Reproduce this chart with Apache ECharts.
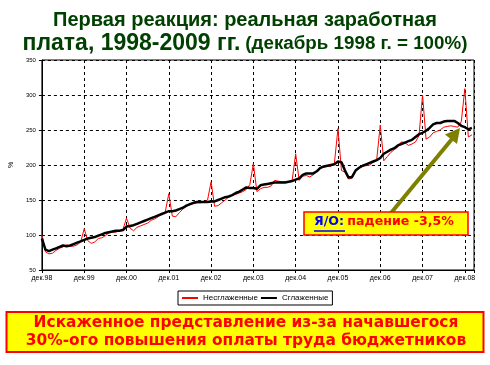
<!DOCTYPE html>
<html><head><meta charset="utf-8">
<script src="https://cdn.jsdelivr.net/npm/echarts@6/dist/echarts.min.js"></script>
<style>html,body{margin:0;padding:0;background:#fff}#c{width:490px;height:365px}</style>
</head><body><div id="c"></div>
<script>
// Monthly data, index 0 = Dec 1998 ... index 122 = Feb 2009
const rawValues = [
  100, 76, 73, 74, 78, 81, 83, 86, 84, 84, 86, 90,
  109, 92, 88, 90, 95, 96, 99, 103, 104, 104, 106, 108,
  124, 110, 106, 111, 113, 115, 117, 121, 123, 126, 130, 133,
  159, 127, 126, 132, 137, 141, 143, 145, 146, 146, 147, 150,
  176, 141, 142, 146, 150, 154, 157, 158, 160, 162, 165, 172,
  202, 162, 166, 168, 168, 170, 178, 177, 176, 176, 175, 178,
  216, 178, 184, 185, 183, 186, 191, 195, 197, 198, 198, 203,
  252, 192, 190, 180, 181, 192, 197, 198, 199, 200, 204, 208,
  257, 206, 212, 218, 222, 226, 233, 232, 228, 230, 233, 242,
  300, 237, 240, 246, 248, 250, 254, 255, 256, 255, 254, 262,
  309, 240, 243
];
const smoothValues = [
  95, 79, 77, 79, 81, 83, 85, 84, 85, 87, 89, 91,
  93, 95, 96, 97, 99, 101, 103, 104, 105, 106, 106, 107,
  112, 113, 114, 116, 118, 120, 122, 124, 126, 128, 130, 132,
  134, 134, 135, 137, 139, 142, 144, 146, 147, 147, 147, 147,
  148, 148, 150, 152, 154, 155, 157, 160, 162, 165, 168, 167,
  167, 166, 171, 172, 173, 174, 175, 175, 175, 175, 176, 177,
  179, 181, 186, 188, 188, 188, 191, 196, 198, 199, 200, 201,
  205, 204, 192, 182, 183, 192, 196, 199, 201, 203, 205, 207,
  210, 216, 219, 222, 224, 228, 230, 232, 234, 236, 240, 244,
  246, 249, 253, 258, 260, 260, 262, 263, 263, 263, 260, 256,
  254, 251, 253
];
const xTickLabels = ['дек.98','дек.99','дек.00','дек.01','дек.02','дек.03','дек.04','дек.05','дек.06','дек.07','дек.08'];
const seriesNames = ['Несглаженные', 'Сглаженные'];

const rawData = rawValues.map((v, i) => [i, v]);
const smoothData = smoothValues.map((v, i) => [i, v]);

const chart = echarts.init(document.getElementById('c'), null, {renderer: 'canvas'});
const FONT = 'Liberation Sans, Arial, sans-serif';
const WIDE = 'DejaVu Sans, sans-serif';
const GREEN = '#004000';

chart.setOption({
  animation: false,
  backgroundColor: '#fff',
  title: {
    left: 'center', top: 3,
    text: '{a|Первая реакция: реальная заработная}\n{c|плата, 1998-2009 гг.} {b|(декабрь 1998 г. = 100%)}',
    textStyle: {
      rich: {
        a: {fontFamily: FONT, fontWeight: 'bold', fontSize: 20, color: GREEN, lineHeight: 24},
        c: {fontFamily: FONT, fontWeight: 'bold', fontSize: 23, color: GREEN, lineHeight: 24},
        b: {fontFamily: FONT, fontWeight: 'bold', fontSize: 18.8, color: GREEN, lineHeight: 24}
      }
    }
  },
  grid: {left: 35, right: 16, top: 60, bottom: 95, show: true, borderColor: '#000', borderWidth: 1},
  legend: {
    left: 178, top: 291,
    borderColor: '#000', borderWidth: 1, padding: [3, 4, 3, 4],
    itemGap: 3, itemWidth: 16, itemHeight: 2,
    textStyle: {fontFamily: FONT, fontSize: 8, color: '#000'},
    data: [{name: seriesNames[0], icon: 'rect'}, {name: seriesNames[1], icon: 'rect'}]
  },
  xAxis: {
    type: 'value', min: 0, max: 122.6, interval: 12,
    axisLine: {lineStyle: {color: '#000', width: 1}},
    axisTick: {show: true, length: 3, lineStyle: {color: '#000'}},
    splitLine: {show: true, lineStyle: {color: '#000', type: [3, 3], width: 1}},
    axisLabel: {
      fontFamily: FONT, fontSize: 7, color: '#000', margin: 5,
      formatter: v => (v % 12 === 0 ? (xTickLabels[v / 12] || '') : '')
    }
  },
  yAxis: {
    type: 'value', min: 50, max: 350, interval: 50,
    name: '%', nameLocation: 'middle', nameGap: 24, nameRotate: 90,
    nameTextStyle: {fontFamily: FONT, fontSize: 7, color: '#000'},
    axisLine: {show: true, lineStyle: {color: '#000', width: 1}},
    axisTick: {show: true, length: 3, lineStyle: {color: '#000'}},
    splitLine: {show: true, lineStyle: {color: '#000', type: [3, 3], width: 1}},
    axisLabel: {fontFamily: FONT, fontSize: 6, color: '#000', margin: 6}
  },
  series: [
    {name: seriesNames[0], type: 'line', data: rawData, showSymbol: false, symbol: 'none',
     lineStyle: {color: '#ff0000', width: 1}, itemStyle: {color: '#ff0000'}, z: 2},
    {name: seriesNames[1], type: 'line', data: smoothData, showSymbol: false, symbol: 'none',
     lineStyle: {color: '#000', width: 2.5}, itemStyle: {color: '#000'}, z: 3}
  ],
  graphic: [
    // arrow
    {type: 'line', shape: {x1: 391, y1: 213, x2: 452, y2: 139}, style: {stroke: '#808000', lineWidth: 4}, z: 10},
    {type: 'polygon', shape: {points: [[460, 128], [457, 144], [445, 134.5]]}, style: {fill: '#808000'}, z: 10},
    // annotation box
    {type: 'rect', shape: {x: 304, y: 212, width: 164, height: 23}, style: {fill: '#ffff00', stroke: '#ff0000', lineWidth: 1.5}, z: 11},
    {type: 'text', left: 314, top: 215, z: 12,
     style: {
       text: '{u|Я/О:} {r|падение -3,5%}',
       rich: {
         u: {fontFamily: WIDE, fontWeight: 'bold', fontSize: 12.6, fill: '#0000ff'},
         r: {fontFamily: WIDE, fontWeight: 'bold', fontSize: 12.6, fill: '#ff0000'}
       }
     }},
    {type: 'line', shape: {x1: 314, y1: 231, x2: 345, y2: 231}, style: {stroke: '#0000ff', lineWidth: 1.5}, z: 12},
    // bottom banner
    {type: 'rect', shape: {x: 6.5, y: 312, width: 477, height: 40}, style: {fill: '#ffff00', stroke: '#ff0000', lineWidth: 2}, z: 11},
    {type: 'text', x: 246, y: 332, z: 12,
     style: {
       text: 'Искаженное представление из-за начавшегося\n30%-ого повышения оплаты труда бюджетников',
       fontFamily: WIDE, fontWeight: 'bold', fontSize: 15.4, lineHeight: 18.5, fill: '#ff0000',
       align: 'center', verticalAlign: 'middle'
     }}
  ]
});
</script>
</body></html>
